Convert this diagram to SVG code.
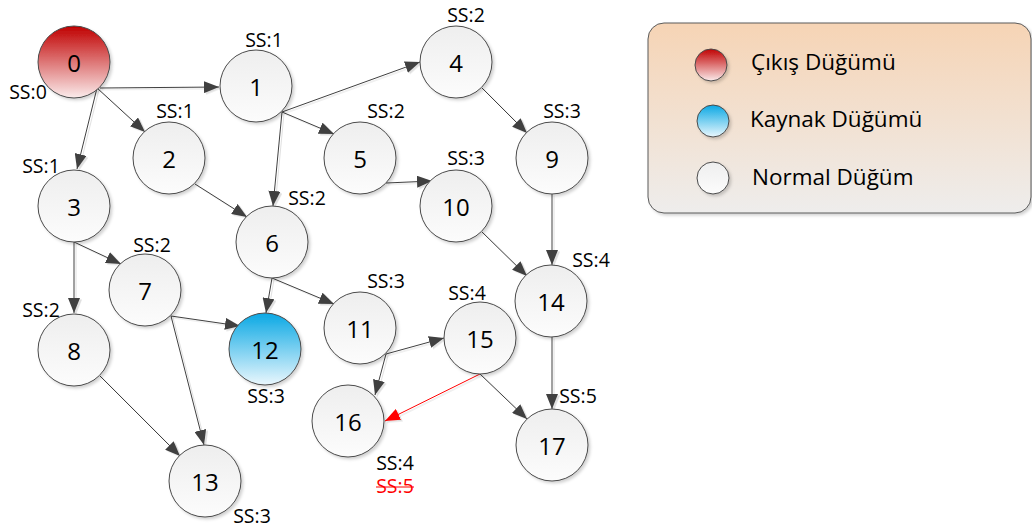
<svg xmlns="http://www.w3.org/2000/svg" width="1032" height="530" viewBox="0 0 1032 530">
  <defs>
    <style>
      .node circle { stroke: #4a4a4a; stroke-width: 1; filter: url(#shadow); }
      .n { fill: url(#gNormal); }
      .num { font-family: "Open Sans", "Liberation Sans", sans-serif; font-size: 24px; fill: #000; text-anchor: middle; dominant-baseline: central; }
      .ss { font-family: "Open Sans", "Liberation Sans", sans-serif; font-size: 19.5px; fill: #000; text-anchor: middle; }
      .edge { stroke: #404040; stroke-width: 1; fill: none; marker-end: url(#arrow); }
      .edge.red { stroke: #ff0000; marker-end: url(#arrowRed); }
      .legtext { font-family: "Open Sans", "Liberation Sans", sans-serif; font-size: 22.5px; fill: #000; }
    </style>
    <linearGradient id="gNormal" x1="0" y1="0" x2="0" y2="1">
      <stop offset="0" stop-color="#eeeeee"/>
      <stop offset="1" stop-color="#fcfcfc"/>
    </linearGradient>
    <linearGradient id="gRed" x1="0" y1="0" x2="0" y2="1">
      <stop offset="0" stop-color="#c00000"/>
      <stop offset="1" stop-color="#fbecec"/>
    </linearGradient>
    <linearGradient id="gBlue" x1="0" y1="0" x2="0" y2="1">
      <stop offset="0" stop-color="#0aa8e4"/>
      <stop offset="1" stop-color="#eaf7fd"/>
    </linearGradient>
    <linearGradient id="gLegend" x1="0" y1="0" x2="0" y2="1">
      <stop offset="0" stop-color="#f6d4b5"/>
      <stop offset="1" stop-color="#eeedec"/>
    </linearGradient>
    <filter id="shadow" x="-20%" y="-20%" width="150%" height="150%">
      <feDropShadow dx="2" dy="2" stdDeviation="1.5" flood-color="#000" flood-opacity="0.18"/>
    </filter>
    <filter id="lineShadow" x="-10%" y="-10%" width="120%" height="120%">
      <feDropShadow dx="2" dy="1.5" stdDeviation="0.4" flood-color="#000" flood-opacity="0.12"/>
    </filter>
    <marker id="arrow" markerUnits="userSpaceOnUse" markerWidth="15" markerHeight="12" viewBox="0 0 15 12" refX="15" refY="6" orient="auto">
      <path d="M0,0 L15,6 L0,12 z" fill="#404040"/>
    </marker>
    <marker id="arrowRed" markerUnits="userSpaceOnUse" markerWidth="15" markerHeight="12" viewBox="0 0 15 12" refX="15" refY="6" orient="auto">
      <path d="M0,0 L15,6 L0,12 z" fill="#ff0000"/>
    </marker>
  </defs>

  <rect width="1032" height="530" fill="#ffffff"/>

  <!-- legend -->
  <g id="legend">
    <rect x="648" y="23" width="383" height="190" rx="16" ry="16" fill="url(#gLegend)" stroke="#5a5a5a" stroke-width="1" filter="url(#shadow)"/>
    <circle cx="711" cy="65" r="16" fill="url(#gRed)" stroke="#4a4a4a" filter="url(#shadow)"/>
    <text class="legtext" x="751" y="70">Çıkış Düğümü</text>
    <circle cx="713" cy="121" r="16" fill="url(#gBlue)" stroke="#4a4a4a" filter="url(#shadow)"/>
    <text class="legtext" x="750" y="127">Kaynak Düğümü</text>
    <circle cx="713" cy="178" r="16" fill="url(#gNormal)" stroke="#4a4a4a" filter="url(#shadow)"/>
    <text class="legtext" x="752" y="185">Normal Düğüm</text>
  </g>

  <!-- connectors -->
  <g id="connectors" filter="url(#lineShadow)">
    <path class="edge" d="M100,88 L219,87"/>
    <path class="edge" d="M97,88 L145,132"/>
    <path class="edge" d="M97,88 L77,169"/>
    <path class="edge" d="M282,112 L420,62"/>
    <path class="edge" d="M282,112 L334,134"/>
    <path class="edge" d="M282,112 L273,206"/>
    <path class="edge" d="M195,184 L247,217"/>
    <path class="edge" d="M482,88 L527,133"/>
    <path class="edge" d="M386,183 L432,181"/>
    <path class="edge" d="M552,194 L552,265"/>
    <path class="edge" d="M482,232 L527,276"/>
    <path class="edge" d="M74,242 L74,313"/>
    <path class="edge" d="M74,242 L121,264"/>
    <path class="edge" d="M272,278 L266,313"/>
    <path class="edge" d="M272,278 L334,304"/>
    <path class="edge" d="M171,316 L240,326"/>
    <path class="edge" d="M171,316 L204,445"/>
    <path class="edge" d="M100,376 L180,456"/>
    <path class="edge" d="M386,354 L444,338"/>
    <path class="edge" d="M386,354 L375,395"/>
    <path class="edge" d="M552,337 L552,409"/>
    <path class="edge" d="M480,374 L527,419"/>
    <path class="edge red" d="M480,374 L385,421"/>
  </g>

  <!-- nodes -->
  <g id="node0" class="node"><circle cx="74" cy="62" r="36" fill="url(#gRed)"/><text class="num" x="74" y="62">0</text><text class="ss" x="28" y="99">SS:0</text></g>
  <g id="node1" class="node"><circle class="n" cx="256" cy="86" r="36"/><text class="num" x="256" y="86">1</text><text class="ss" x="264" y="47">SS:1</text></g>
  <g id="node2" class="node"><circle class="n" cx="169" cy="158" r="36"/><text class="num" x="169" y="158">2</text><text class="ss" x="175" y="118">SS:1</text></g>
  <g id="node3" class="node"><circle class="n" cx="74" cy="206" r="36"/><text class="num" x="74" y="206">3</text><text class="ss" x="41" y="173">SS:1</text></g>
  <g id="node4" class="node"><circle class="n" cx="456" cy="62" r="36"/><text class="num" x="456" y="62">4</text><text class="ss" x="466" y="22">SS:2</text></g>
  <g id="node5" class="node"><circle class="n" cx="360" cy="158" r="36"/><text class="num" x="360" y="158">5</text><text class="ss" x="386" y="118">SS:2</text></g>
  <g id="node6" class="node"><circle class="n" cx="272" cy="242" r="36"/><text class="num" x="272" y="242">6</text><text class="ss" x="307" y="205">SS:2</text></g>
  <g id="node7" class="node"><circle class="n" cx="145" cy="290" r="36"/><text class="num" x="145" y="290">7</text><text class="ss" x="152" y="252">SS:2</text></g>
  <g id="node8" class="node"><circle class="n" cx="74" cy="350" r="36"/><text class="num" x="74" y="350">8</text><text class="ss" x="41" y="317">SS:2</text></g>
  <g id="node9" class="node"><circle class="n" cx="552" cy="158" r="36"/><text class="num" x="552" y="158">9</text><text class="ss" x="562" y="118">SS:3</text></g>
  <g id="node10" class="node"><circle class="n" cx="456" cy="206" r="36"/><text class="num" x="456" y="206">10</text><text class="ss" x="466" y="165">SS:3</text></g>
  <g id="node11" class="node"><circle class="n" cx="360" cy="328" r="36"/><text class="num" x="360" y="328">11</text><text class="ss" x="386" y="288">SS:3</text></g>
  <g id="node12" class="node"><circle cx="265" cy="349" r="36" fill="url(#gBlue)"/><text class="num" x="265" y="349">12</text><text class="ss" x="266" y="403">SS:3</text></g>
  <g id="node13" class="node"><circle class="n" cx="205" cy="481" r="36"/><text class="num" x="205" y="481">13</text><text class="ss" x="252" y="523">SS:3</text></g>
  <g id="node14" class="node"><circle class="n" cx="551" cy="301" r="36"/><text class="num" x="551" y="301">14</text><text class="ss" x="591" y="267">SS:4</text></g>
  <g id="node15" class="node"><circle class="n" cx="480" cy="338" r="36"/><text class="num" x="480" y="338">15</text><text class="ss" x="467" y="300">SS:4</text></g>
  <g id="node16" class="node"><circle class="n" cx="348" cy="421" r="36"/><text class="num" x="348" y="421">16</text><text class="ss" x="395" y="470">SS:4</text>
    <text class="ss" x="395" y="493" style="fill:#ff0000">SS:5</text>
    <line x1="376" y1="487" x2="414" y2="487" stroke="#ff0000" stroke-width="1.2"/>
  </g>
  <g id="node17" class="node"><circle class="n" cx="552" cy="445" r="36"/><text class="num" x="552" y="445">17</text><text class="ss" x="578" y="403">SS:5</text></g>
</svg>
